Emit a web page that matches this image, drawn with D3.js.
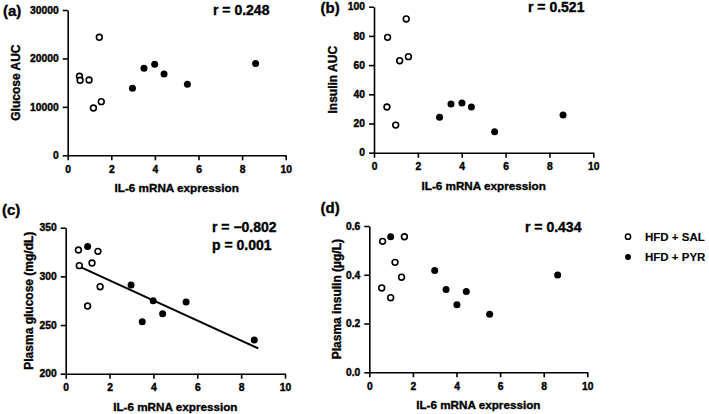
<!DOCTYPE html>
<html>
<head>
<meta charset="utf-8">
<script src="https://cdn.jsdelivr.net/npm/d3@7"></script>
<style>
  body { margin: 0; background: #fff; }
  svg { display: block; font-family: "Liberation Sans", Arial, sans-serif; font-weight: bold; }
  svg text { stroke: #000; stroke-width: 0.35px; fill: #000; }
  .axis path, .axis line { stroke: #000; stroke-width: 1.6; }
</style>
</head>
<body>
<div id="chart"></div>
<script>
// IL-6 mRNA expression vs outcomes, [x, y]
const glucoseAucSal = [[0.54, 16310], [0.57, 15490], [0.98, 15550], [1.18, 9770], [1.45, 24360], [1.54, 11080]];
const glucoseAucPyr = [[2.97, 13830], [3.50, 17960], [3.99, 18790], [4.42, 16790], [5.49, 14660], [8.62, 18930]];

const insulinAucSal = [[0.59, 31.3], [0.62, 79.0], [0.99, 18.9], [1.17, 63.0], [1.47, 91.6], [1.57, 65.8]];
const insulinAucPyr = [[2.99, 24.2], [3.51, 33.3], [4.01, 34.0], [4.44, 31.3], [5.50, 14.4], [8.62, 25.8]];

const plasmaGlucoseSal = [[0.58, 327.1], [0.62, 311], [1.00, 269.5], [1.20, 313.7], [1.47, 325.7], [1.57, 289.4]];
const plasmaGlucosePyr = [[1.00, 330.8], [2.98, 291.1], [3.49, 253.4], [3.99, 275], [4.42, 261.7], [5.49, 273.7], [8.60, 234.6]];
const plasmaGlucoseFit = [[0.53, 311], [8.78, 226]];

const plasmaInsulinSal = [[0.57, 0.346], [0.61, 0.537], [0.98, 0.306], [1.18, 0.451], [1.48, 0.390], [1.61, 0.556]];
const plasmaInsulinPyr = [[0.98, 0.556], [3.00, 0.417], [3.52, 0.340], [4.02, 0.277], [4.45, 0.331], [5.52, 0.238], [8.64, 0.399]];

const xTicks = [0, 2, 4, 6, 8, 10];
const legendLabels = ["HFD + SAL", "HFD + PYR"];

const width = 709, height = 414;

const svg = d3.select("#chart").append("svg")
    .attr("width", width)
    .attr("height", height);

// pixel boxes for each panel
const panels = [
  {tag: "(a)", left: 67.7, right: 285.7, top: 10, bottom: 155.3,
   yDomain: [0, 30000], yTicks: [0, 10000, 20000, 30000], fmt: d3.format("d"),
   yTitle: "Glucose AUC", yTitleX: 16, stats: ["r = 0.248"], statX: 213, statY: 15,
   tagX: 3, tagY: 15.5, sal: glucoseAucSal, pyr: glucoseAucPyr},
  {tag: "(b)", left: 374, right: 593.3, top: 6.7, bottom: 152.7,
   yDomain: [0, 100], yTicks: [0, 20, 40, 60, 80, 100], fmt: d3.format("d"),
   yTitle: "Insulin AUC", yTitleX: 333, stats: ["r = 0.521"], statX: 528, statY: 12,
   tagX: 320.5, tagY: 13, sal: insulinAucSal, pyr: insulinAucPyr},
  {tag: "(c)", left: 65.7, right: 285, top: 227.7, bottom: 373.7,
   yDomain: [200, 350], yTicks: [200, 250, 300, 350], fmt: d3.format("d"),
   yTitle: "Plasma glucose (mg/dL)", yTitleX: 28.5, stats: ["r = \u22120.802", "p = 0.001"], statX: 212, statY: 231.5,
   tagX: 2, tagY: 215, sal: plasmaGlucoseSal, pyr: plasmaGlucosePyr, fit: plasmaGlucoseFit},
  {tag: "(d)", left: 369.3, right: 587.3, top: 226, bottom: 372.3,
   yDomain: [0, 0.6], yTicks: [0, 0.2, 0.4, 0.6], fmt: d3.format(".1f"),
   yTitle: "Plasma insulin (\u00b5g/L)", yTitleX: 336.5, stats: ["r = 0.434"], statX: 525, statY: 231.5,
   tagX: 320.5, tagY: 213, sal: plasmaInsulinSal, pyr: plasmaInsulinPyr}
];

// heavier tick text
function styleTicks(sel) {
  sel.attr("font-family", null).attr("font-size", null);
  sel.selectAll("text")
      .style("font-family", "'Liberation Sans', Arial, sans-serif")
      .style("font-size", "10.3px")
      .style("font-weight", "bold")
      .style("fill", "#000")
      .style("stroke", "#000")
      .style("stroke-width", "0.4px");
}

panels.forEach((p) => {
  const x = d3.scaleLinear().domain([0, 10]).range([p.left, p.right]);
  const y = d3.scaleLinear().domain(p.yDomain).range([p.bottom, p.top]);
  const g = svg.append("g");

  g.append("g")
      .attr("class", "axis")
      .attr("transform", "translate(0," + p.bottom + ")")
      .call(d3.axisBottom(x).tickValues(xTicks).tickSize(5).tickPadding(5).tickSizeOuter(0))
      .call(styleTicks);

  g.append("g")
      .attr("class", "axis")
      .attr("transform", "translate(" + p.left + ",0)")
      .call(d3.axisLeft(y).tickValues(p.yTicks).tickFormat(p.fmt).tickSize(5).tickPadding(4).tickSizeOuter(0))
      .call(styleTicks);

  // x axis title
  g.append("text")
      .attr("x", (p.left + p.right) / 2)
      .attr("y", p.bottom + 37)
      .attr("text-anchor", "middle")
      .style("font-size", "11.7px")
      .text("IL-6 mRNA expression");

  // y axis title
  g.append("text")
      .attr("transform", "translate(" + p.yTitleX + "," + ((p.top + p.bottom) / 2) + ") rotate(-90)")
      .attr("dy", "0.35em")
      .attr("text-anchor", "middle")
      .style("font-size", "12px")
      .text(p.yTitle);

  // panel tag
  g.append("text")
      .attr("x", p.tagX)
      .attr("y", p.tagY)
      .style("font-size", "15px")
      .text(p.tag);

  p.stats.forEach((s, i) => {
    g.append("text")
        .attr("x", p.statX)
        .attr("y", p.statY + i * 18.5)
        .style("font-size", "14px")
        .text(s);
  });

  if (p.fit) {
    g.append("line")
        .attr("x1", x(p.fit[0][0])).attr("y1", y(p.fit[0][1]))
        .attr("x2", x(p.fit[1][0])).attr("y2", y(p.fit[1][1]))
        .attr("stroke", "#000")
        .attr("stroke-width", 2);
  }

  g.selectAll(".sal")
      .data(p.sal)
    .enter().append("circle")
      .attr("cx", (d) => x(d[0]))
      .attr("cy", (d) => y(d[1]))
      .attr("r", 2.9)
      .attr("fill", "#fff")
      .attr("stroke", "#000")
      .attr("stroke-width", 1.6);

  g.selectAll(".pyr")
      .data(p.pyr)
    .enter().append("circle")
      .attr("cx", (d) => x(d[0]))
      .attr("cy", (d) => y(d[1]))
      .attr("r", 3.5)
      .attr("fill", "#000");
});

// legend
const legend = svg.append("g");
legendLabels.forEach((lab, i) => {
  const ly = 236.7 + i * 20.3;
  if (i === 0) {
    legend.append("circle").attr("cx", 628).attr("cy", ly).attr("r", 2.6)
        .attr("fill", "#fff").attr("stroke", "#000").attr("stroke-width", 1.5);
  } else {
    legend.append("circle").attr("cx", 628).attr("cy", ly).attr("r", 3)
        .attr("fill", "#000");
  }
  legend.append("text")
      .attr("x", 645)
      .attr("y", ly)
      .attr("dy", "0.35em")
      .style("font-size", "11.5px")
      .style("stroke-width", "0.1px")
      .text(lab);
});
</script>
</body>
</html>
